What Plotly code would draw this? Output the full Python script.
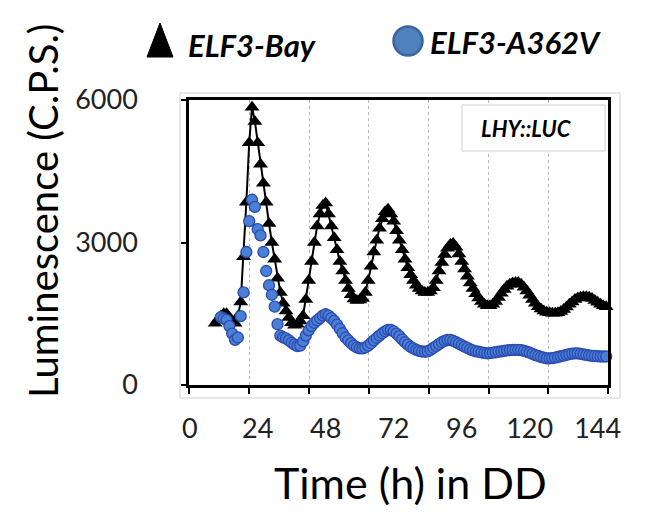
import plotly.graph_objects as go

# ---------------- data ----------------
time_bay = list(range(9, 148))
lum_bay = [
    1300, 1380, 1450, 1500, 1500, 1420, 1330, 1300, 1450, 1750,   # 9-18
    2700, 3850, 5100, 5850, 5550, 5100, 4650, 4250, 3850, 3400,   # 19-28
    3000, 2650, 2250, 1950, 1720, 1560, 1420, 1310, 1260, 1280,   # 29-38
    1350, 1460, 1800, 2200, 2600, 3000, 3350, 3600, 3780, 3830,   # 39-48
    3600, 3350, 3100, 2850, 2600, 2400, 2200, 2030, 1900, 1810,   # 49-58
    1780, 1790, 1820, 1950, 2200, 2500, 2800, 3050, 3300, 3500,   # 59-68
    3650, 3700, 3600, 3450, 3250, 3050, 2850, 2650, 2470, 2320,   # 69-78
    2200, 2100, 2030, 1980, 1950, 1950, 1980, 2050, 2200, 2400,   # 79-88
    2580, 2750, 2880, 2960, 2980, 2900, 2760, 2600, 2440, 2290,   # 89-98
    2150, 2030, 1920, 1830, 1760, 1700, 1670, 1670, 1700, 1760,   # 99-108
    1840, 1930, 2010, 2080, 2120, 2150, 2160, 2160, 2120, 2060,   # 109-118
    1980, 1890, 1800, 1720, 1650, 1600, 1560, 1530, 1520, 1510,   # 119-128
    1510, 1520, 1550, 1590, 1640, 1700, 1750, 1800, 1830, 1850,   # 129-138
    1860, 1860, 1850, 1820, 1780, 1740, 1700, 1670, 1650,         # 139-147
]

time_a362v = list(range(11, 148))
lum_a362v = [
    1430, 1400, 1370, 1240, 1080, 950, 1000, 1450, 1950, 2800,    # 11-20
    3450, 3900, 3750, 3280, 3150, 2800, 2400, 2100, 1900, 1650,   # 21-30
    1280, 1040, 1000, 980, 940, 890, 850, 820, 830, 920,          # 31-40
    1040, 1150, 1240, 1310, 1360, 1410, 1460, 1490, 1460, 1410,   # 41-50
    1350, 1270, 1180, 1090, 1000, 940, 880, 830, 790, 770,        # 51-60
    770, 790, 830, 880, 940, 990, 1040, 1090, 1130, 1160,         # 61-70
    1160, 1130, 1080, 1030, 960, 900, 850, 800, 770, 740,         # 71-80
    720, 705, 700, 710, 740, 780, 820, 860, 900, 930,             # 81-90
    950, 950, 930, 900, 870, 840, 810, 780, 750, 730,             # 91-100
    710, 700, 685, 675, 665, 670, 680, 690, 700, 710,             # 101-110
    720, 730, 735, 740, 740, 740, 735, 720, 700, 680,             # 111-120
    655, 630, 610, 590, 575, 560, 560, 565, 575, 590,             # 121-130
    605, 620, 635, 650, 660, 665, 665, 655, 645, 635,             # 131-140
    625, 615, 610, 605, 600, 600, 600,                            # 141-147
]

x_tick_vals = [0, 24, 48, 72, 96, 120, 144]
x_tick_text = ["0", "24", "48", "72", "96", "120", "144"]
x_grid_vals = [-0.14, 20.99, 42.11, 63.24, 84.37, 105.5, 126.6, 147.6]
y_tick_vals = [0, 3000, 6000]
y_tick_text = ["0", "3000", "6000"]

series_names = ["ELF3-Bay", "ELF3-A362V"]
x_title = "Time (h) in DD"
y_title = "Luminescence (C.P.S.)"
panel_label = "LHY::LUC"

# ---------------- layout helpers ----------------
W, H = 652, 513
L, R, T, B = 189, 608, 100, 385


def px(xp):
    return (xp - L) / (R - L)


def py(yp):
    return (B - yp) / (B - T)


FONT = "Lato"
BLUE_FILL = "#4a7fd6"
BLUE_EDGE = "#2b4bb0"

fig = go.Figure()
fig.add_trace(go.Scatter(
    x=time_bay, y=lum_bay, mode="lines+markers", name=series_names[0],
    line=dict(color="black", width=2),
    marker=dict(symbol="triangle-up", size=13, color="black"),
    cliponaxis=False, showlegend=False,
))
fig.add_trace(go.Scatter(
    x=time_a362v, y=lum_a362v, mode="markers", name=series_names[1],
    marker=dict(symbol="circle", size=11, color=BLUE_FILL,
                line=dict(color=BLUE_EDGE, width=1.3)),
    cliponaxis=False, showlegend=False,
))

fig.update_layout(
    width=W, height=H,
    margin=dict(l=L, r=W - R, t=T, b=H - B, pad=0),
    paper_bgcolor="white", plot_bgcolor="white",
    font=dict(family=FONT, color="black"),
    xaxis=dict(
        range=[-0.25, 147.65], showline=True, linecolor="black", linewidth=2.5,
        mirror=True, tickmode="array", tickvals=x_tick_vals, ticktext=x_tick_text,
        ticks="", showgrid=False, zeroline=False,
        tickfont=dict(size=27, family=FONT, color="#222"), ticklabelstandoff=18,
        minor=dict(tickmode="array", tickvals=x_grid_vals, ticks="outside",
                   ticklen=6, tickwidth=2, tickcolor="black",
                   showgrid=True, gridcolor="#b5b5b5", griddash="dot", gridwidth=1),
    ),
    yaxis=dict(
        range=[0, 6000], showline=True, linecolor="black", linewidth=2.5,
        mirror=True, tickmode="array", tickvals=y_tick_vals, ticktext=y_tick_text,
        ticks="outside", ticklen=5, tickwidth=2, tickcolor="black",
        showgrid=False, zeroline=False,
        tickfont=dict(size=27, family=FONT, color="#222"), ticklabelstandoff=38,
    ),
)

shapes = []
# faint outer frame of the pasted chart area
shapes.append(dict(type="rect", xref="paper", yref="paper",
                   x0=px(180), x1=px(620), y0=py(398), y1=py(93),
                   line=dict(color="#cfcfcf", width=1), layer="below"))
# panel label box
shapes.append(dict(type="rect", xref="paper", yref="paper",
                   x0=px(462), x1=px(605), y0=py(151), y1=py(105),
                   line=dict(color="#cfcfcf", width=1), fillcolor="white"))
# legend triangle
shapes.append(dict(type="path", xref="paper", yref="paper",
                   path=f"M {px(160)},{py(23)} L {px(147)},{py(57)} L {px(173)},{py(57)} Z",
                   fillcolor="black", line=dict(color="black", width=1)))
# legend circle
shapes.append(dict(type="circle", xref="paper", yref="paper",
                   x0=px(393.5), x1=px(422.5), y0=py(55.5), y1=py(26.5),
                   fillcolor="#4f81bd", line=dict(color="#3a64a0", width=2.5)))
fig.update_layout(shapes=shapes)

ann = []
ann.append(dict(text=series_names[0], xref="paper", yref="paper",
                x=px(186), y=py(45), xanchor="left", yanchor="middle", showarrow=False,
                font=dict(family=FONT, size=31, weight="bold", style="italic", color="black")))
ann.append(dict(text=series_names[1], xref="paper", yref="paper",
                x=px(428), y=py(42), xanchor="left", yanchor="middle", showarrow=False,
                font=dict(family=FONT, size=31, weight="bold", style="italic", color="black")))
ann.append(dict(text=panel_label, xref="paper", yref="paper",
                x=px(526), y=py(128), xanchor="center", yanchor="middle", showarrow=False,
                font=dict(family=FONT, size=22, weight="bold", style="italic", color="black")))
ann.append(dict(text=x_title, xref="paper", yref="paper",
                x=px(410), y=py(482), xanchor="center", yanchor="middle", showarrow=False,
                font=dict(family=FONT, size=43, color="black")))
ann.append(dict(text=y_title, xref="paper", yref="paper", textangle=-90,
                x=px(43), y=py(211), xanchor="center", yanchor="middle", showarrow=False,
                font=dict(family=FONT, size=40, color="black")))
fig.update_layout(annotations=ann)

fig.write_html("out.html")
